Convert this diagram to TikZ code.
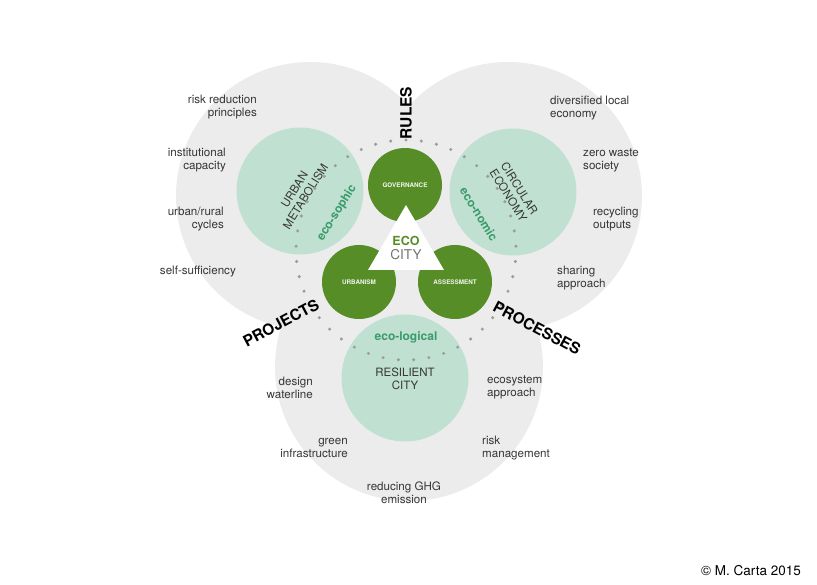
\documentclass[tikz,border=0pt]{standalone}
\usepackage{fontspec}
\setmainfont{TeX Gyre Heros}
\usetikzlibrary{positioning}
\definecolor{discgrey}{HTML}{EDECED}
\definecolor{mint}{HTML}{C0E0D1}
\definecolor{leaf}{HTML}{568D27}
\definecolor{ecogreen}{HTML}{3A9B6B}
\definecolor{txtgrey}{HTML}{363636}
\definecolor{dotgrey}{HTML}{9C9C9C}

\begin{document}
\begin{tikzpicture}[x=1pt, y=-1pt,
    bigdisc/.style={circle, fill=discgrey, minimum size=268pt, inner sep=0pt},
    mintdisc/.style={circle, fill=mint, minimum size=127pt, inner sep=0pt},
    leafdisc/.style={circle, fill=leaf, minimum size=74pt, inner sep=0pt, text=white!92!leaf, font=\fontsize{6.3}{8}\selectfont\bfseries},
    side/.style={text=txtgrey, font=\fontsize{11.6}{13}\selectfont, inner sep=0pt},
    lside/.style={side, anchor=east, align=right},
    rside/.style={side, anchor=west, align=left},
    heading/.style={inner sep=0pt, font=\fontsize{15.5}{16}\selectfont\bfseries},
    mintlabel/.style={text=txtgrey, inner sep=0pt, font=\fontsize{11.5}{13}\selectfont, align=center},
    ecolabel/.style={text=ecogreen, inner sep=0pt, font=\fontsize{12}{14}\selectfont\bfseries}]
    \useasboundingbox (0,0) rectangle (817,585);

    % three outer fields
    \node[bigdisc] (rulesdisc) at (310,196) {};
    \node[bigdisc] (econdisc) at (508,196) {};
    \node[bigdisc] (resdisc) at (409,367) {};

    % inner fields
    \node[mintdisc] (metabdisc) at (300,191) {};
    \node[mintdisc] (circdisc) at (513,192) {};
    \node[mintdisc] (resildisc) at (405,378) {};

    \node[mintlabel, rotate=58] (metab) at (300,193) {URBAN\\METABOLISM};
    \node[ecolabel, rotate=58] (sophic) at (337,213) {eco-sophic};
    \node[mintlabel, rotate=-58] (circ) at (514,192) {CIRCULAR\\ECONOMY};
    \node[ecolabel, rotate=-58] (nomic) at (479,214) {eco-nomic};
    \node[mintlabel] (resil) at (405,379) {RESILIENT\\CITY};
    \node[ecolabel] (logical) at (406,337) {eco-logical};

    % dotted ring
    \foreach \a in {2,10,...,354}
        \fill[dotgrey] (406,250) ++(\a:110pt) circle (1.7pt);

    % governance, urbanism, assessment
    \node[leafdisc] (gov) at (405,185) {GOVERNANCE};
    \node[leafdisc] (urb) at (359,282) {URBANISM};
    \node[leafdisc] (assess) at (455,282) {ASSESSMENT};

    \fill[white] (406,205) -- (444,270) -- (368,270) -- cycle;
    \node[inner sep=0pt, text=leaf, font=\fontsize{12.5}{14}\selectfont\bfseries] (eco) at (406,241) {ECO};
    \node[inner sep=0pt, text=black!55, font=\fontsize{13.5}{14}\selectfont] (city) at (406,255) {CITY};

    \node[heading, rotate=90] (rules) at (406,113) {RULES};
    \node[heading, rotate=28] (projects) at (281,323) {PROJECTS};
    \node[heading, rotate=-28] (processes) at (537,328) {PROCESSES};

    % left field
    \node[lside] (riskred) at (257,107.5) {risk reduction\\principles};
    \node[lside] (instcap) at (226,160) {institutional\\capacity};
    \node[lside] (cycles) at (224,219) {urban/rural\\cycles};
    \node[lside] (selfsuff) at (236,272) {self-sufficiency};

    % right field
    \node[rside] (diverse) at (550,108) {diversified local\\economy};
    \node[rside] (zerowaste) at (583,160) {zero waste\\society};
    \node[rside] (recycle) at (593,219) {recycling\\outputs};
    \node[rside] (sharing) at (557,278) {sharing\\approach};

    % bottom field
    \node[lside] (waterline) at (313,387.5) {design\\waterline};
    \node[lside] (greeninf) at (348,448) {green\\infrastructure};
    \node[rside] (ecosys) at (487,387.5) {ecosystem\\approach};
    \node[rside] (riskman) at (482,448) {risk\\management};
    \node[side, align=center] (ghg) at (404,492.5) {reducing GHG\\emission};

    \node[inner sep=0pt, font=\fontsize{13.5}{15}\selectfont] (credit) at (751,571) {© M. Carta 2015};
\end{tikzpicture}
\end{document}
